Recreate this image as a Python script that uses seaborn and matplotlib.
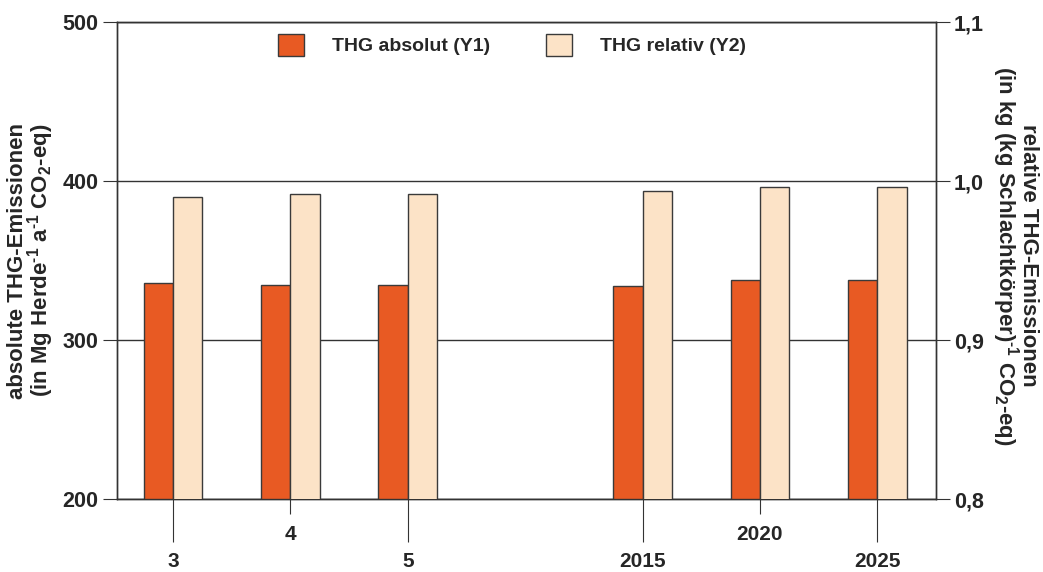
import matplotlib
matplotlib.use("Agg")
import matplotlib.pyplot as plt
from matplotlib.patches import Patch
from matplotlib.ticker import FuncFormatter
import pandas as pd
import seaborn as sns

# x categories (the empty one is the gap between 5 and 2015)
categories = ["3", "4", "5", "", "2015", "2020", "2025"]
groups = ["3", "4", "5", "2015", "2020", "2025"]
thg_absolut = [336.0, 334.6, 334.6, 334.0, 337.5, 337.5]
thg_relativ = [0.990, 0.992, 0.992, 0.994, 0.996, 0.996]
series = ["THG absolut (Y1)", "THG relativ (Y2)"]
left_ticks = [200, 300, 400, 500]
right_ticks = [0.8, 0.9, 1.0, 1.1]

colors = {series[0]: "#E85A23", series[1]: "#FCE3C7"}
edge = "#3a3a3a"
dark = "#333333"

df_abs = pd.DataFrame({"gruppe": groups, "serie": series[0], "wert": thg_absolut})
df_rel = pd.DataFrame({"gruppe": groups, "serie": series[1], "wert": thg_relativ})

sns.set_theme(style="white")
plt.rcParams["font.family"] = ["Liberation Sans", "DejaVu Sans"]
plt.rcParams["font.weight"] = "bold"
plt.rcParams["mathtext.default"] = "regular"

fig = plt.figure(figsize=(10.43, 5.72), dpi=100)
ax1 = fig.add_axes([0.1119, 0.1276, 0.7855, 0.8339])
ax2 = ax1.twinx()

bar_kw = dict(x="gruppe", y="wert", hue="serie", order=categories, hue_order=series,
              palette=colors, width=0.5, dodge=True, saturation=1, edgecolor=edge,
              linewidth=1, legend=False, zorder=3)
sns.barplot(data=df_abs, ax=ax1, **bar_kw)
sns.barplot(data=df_rel, ax=ax2, **bar_kw)

ax1.set_xlim(-0.48, 6.5)
ax1.set_ylim(200, 500)
ax2.set_ylim(0.8, 1.1)

# x ticks: staggered labels (long / short ticks)
ax1.set_xticks([0, 2, 4, 6], labels=["3", "5", "2015", "2025"])
ax1.set_xticks([1, 5], labels=["4", "2020"], minor=True)
ax1.tick_params(axis="x", which="major", length=31, width=0.8, pad=7,
                color=dark, labelsize=15, bottom=True)
ax1.tick_params(axis="x", which="minor", length=11, width=0.8, pad=8,
                color=dark, labelsize=15, bottom=True)
ax1.set_xlabel("")

ax1.set_yticks(left_ticks)
ax1.tick_params(axis="y", length=10, width=0.8, color=dark, labelsize=15.5, left=True, pad=3)
ax2.set_yticks(right_ticks)
ax2.yaxis.set_major_formatter(FuncFormatter(lambda v, p: f"{v:.1f}".replace(".", ",")))
ax2.tick_params(axis="y", length=10, width=0.8, color=dark, labelsize=15.5, right=True, pad=3)

ax1.yaxis.grid(True, color=dark, linewidth=1)
ax1.set_axisbelow(True)
for ax in (ax1, ax2):
    for s in ax.spines.values():
        s.set_color(dark)
        s.set_linewidth(1)

ax1.set_ylabel("absolute THG-Emissionen\n(in Mg Herde$^{\u2010 1}$ a$^{\u2010 1}$ CO$_2$-eq)",
               fontsize=16, fontweight="bold", linespacing=0.88)
ax1.yaxis.set_label_coords(-0.0735, 0.5)
ax2.set_ylabel("relative THG-Emissionen\n(in kg (kg Schlachtkörper)$^{\u2010 1}$ CO$_2$-eq)",
               fontsize=16, fontweight="bold", rotation=270, va="bottom", linespacing=0.85)
ax2.yaxis.set_label_coords(1.066, 0.51)

handles = [Patch(facecolor=colors[s], edgecolor=edge, linewidth=1) for s in series]
fig.legend(handles=handles, labels=series, loc="center",
           bbox_to_anchor=(512 / 1043, 1 - 45 / 572), ncol=2, frameon=False,
           fontsize=14, handlelength=1.35, handleheight=1.35,
           handletextpad=1.45, columnspacing=2.85, borderpad=0)

fig.savefig("out.png", dpi=100, facecolor="white")
